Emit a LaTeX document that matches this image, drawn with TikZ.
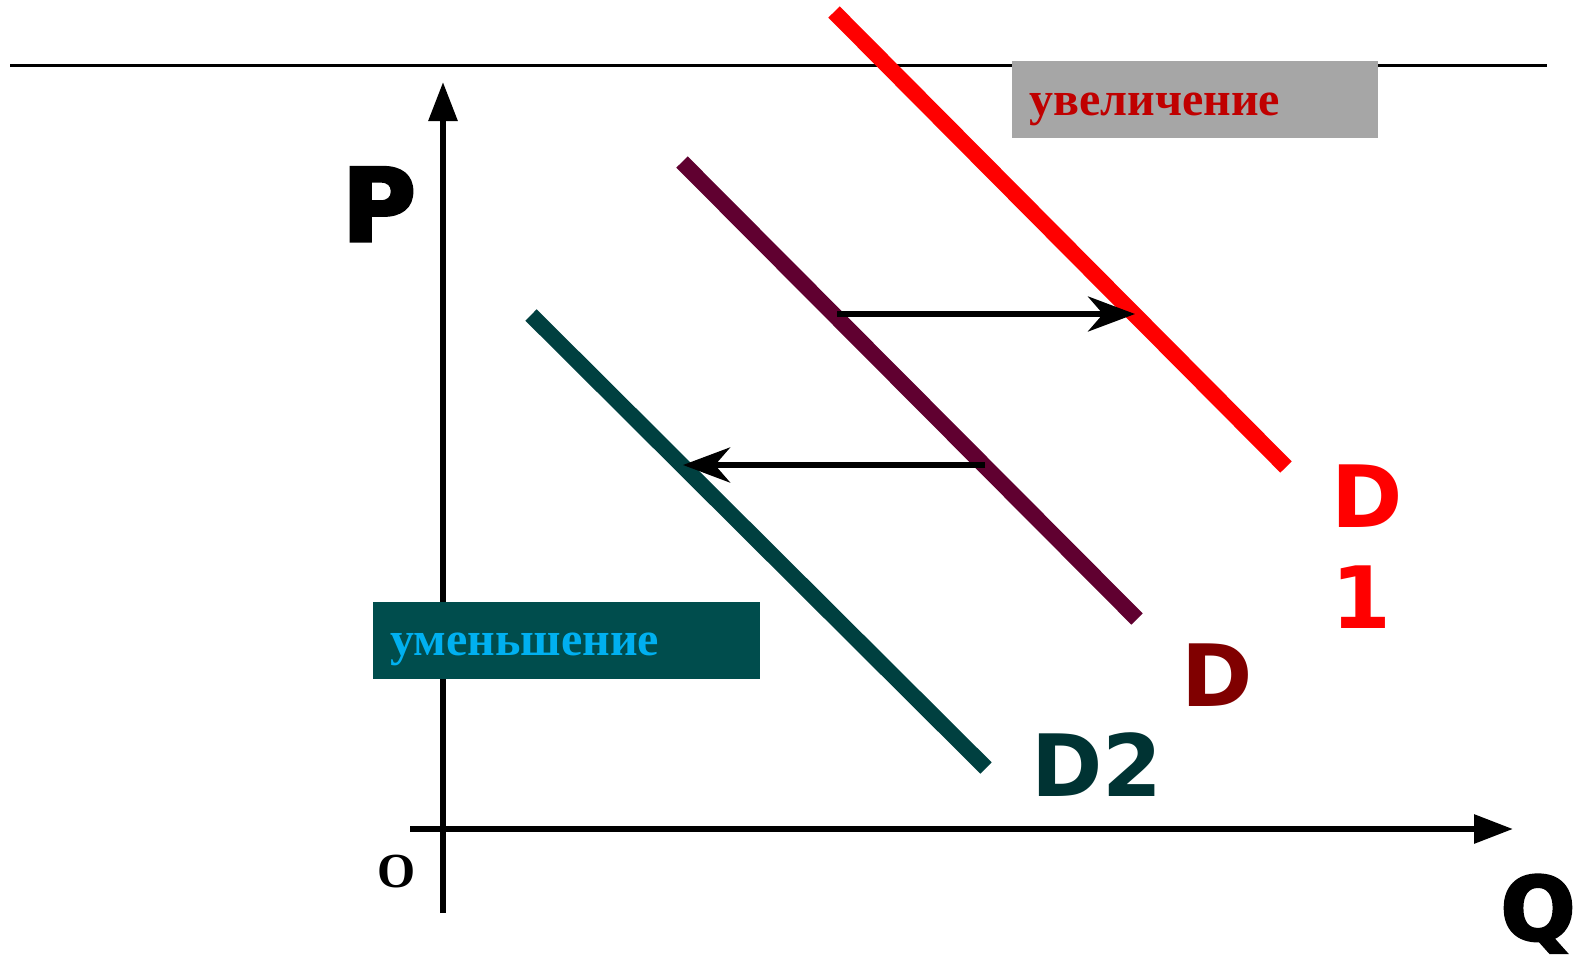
\documentclass[tikz,border=0pt]{standalone}
\usepackage{fontspec}
\setmainfont{Liberation Serif}
\newfontfamily\djv{DejaVu Sans}
\newfontfamily\heavy{DejaVu Sans}[BoldFeatures={FakeBold=3}]
\usetikzlibrary{arrows.meta}
\definecolor{dred}{RGB}{255,0,0}
\definecolor{maroonline}{RGB}{96,0,48}
\definecolor{maroontext}{RGB}{128,0,0}
\definecolor{tealline}{RGB}{0,64,64}
\definecolor{tealtext}{RGB}{0,51,51}
\definecolor{boxgray}{RGB}{166,166,166}
\definecolor{boxteal}{RGB}{0,77,77}
\definecolor{txtred}{RGB}{192,0,0}
\definecolor{txtblue}{RGB}{0,176,240}
\tikzset{
  axis/.style={line width=6pt, -{Triangle[length=39pt,width=28pt]}},
  demand/.style={line width=16pt, line cap=butt},
  shiftarrow/.style={line width=6pt, -{Stealth[length=47pt,width=35pt,inset=15pt]}},
  lab/.style={inner sep=0pt, anchor=base},
  dlab/.style={lab, font=\djv\bfseries\fontsize{86}{86}\selectfont},
  axlab/.style={lab, font=\heavy\bfseries\fontsize{101}{101}\selectfont},
  boxtxt/.style={inner sep=0pt, anchor=base west, font=\bfseries\fontsize{48}{48}\selectfont},
  panel/.style={inner sep=0pt, anchor=north west}
}
\begin{document}
\begin{tikzpicture}[x=1pt,y=-1pt]
\useasboundingbox (0,0) rectangle (1585,959);
% top rule
\coordinate (tl) at (10,65);
\coordinate (tr) at (1547,65);
\draw[line width=3pt] (tl) -- (tr);
% axes
\coordinate (ybot) at (443,913);
\coordinate (ytop) at (443,82);
\coordinate (xleft) at (410,829);
\coordinate (xright) at (1513,829);
\draw[axis] (ybot) -- (ytop);
\draw[axis] (xleft) -- (xright);
% demand curves
\coordinate (d1a) at (834,12);
\coordinate (d1b) at (1286,467);
\coordinate (da) at (682,162);
\coordinate (db) at (1137,619);
\coordinate (d2a) at (531,315);
\coordinate (d2b) at (986,768);
\draw[demand, dred] (d1a) -- (d1b);
\draw[demand, maroonline] (da) -- (db);
\draw[demand, tealline] (d2a) -- (d2b);
% shift arrows
\coordinate (r1) at (837,314);
\coordinate (r2) at (1135,314);
\coordinate (l1) at (985,465);
\coordinate (l2) at (683,465);
\draw[shiftarrow] (r1) -- (r2);
\draw[shiftarrow] (l1) -- (l2);
% panels
\node[panel, fill=boxgray, minimum width=366pt, minimum height=77pt] (upbox) at (1012,61) {};
\node[boxtxt, text=txtred] (uptxt) at (1029,115) {увеличение};
\node[panel, fill=boxteal, minimum width=387pt, minimum height=77pt] (downbox) at (373,602) {};
\node[boxtxt, text=txtblue] (downtxt) at (390,655) {уменьшение};
% labels
\node[axlab] (P) at (379,241) {P};
\node[axlab, font=\heavy\bfseries\fontsize{88}{88}\selectfont] (Q) at (1538,940) {Q};
\node[lab, font=\bfseries\fontsize{49}{49}\selectfont] (O) at (397,887) {O};
\node[dlab, text=dred] (D1a) at (1367,527) {D};
\node[dlab, text=dred] (D1b) at (1361,628) {1};
\node[dlab, text=maroontext] (D) at (1217,706) {D};
\node[dlab, text=tealtext] (D2) at (1097,796) {D2};
\end{tikzpicture}
\end{document}
